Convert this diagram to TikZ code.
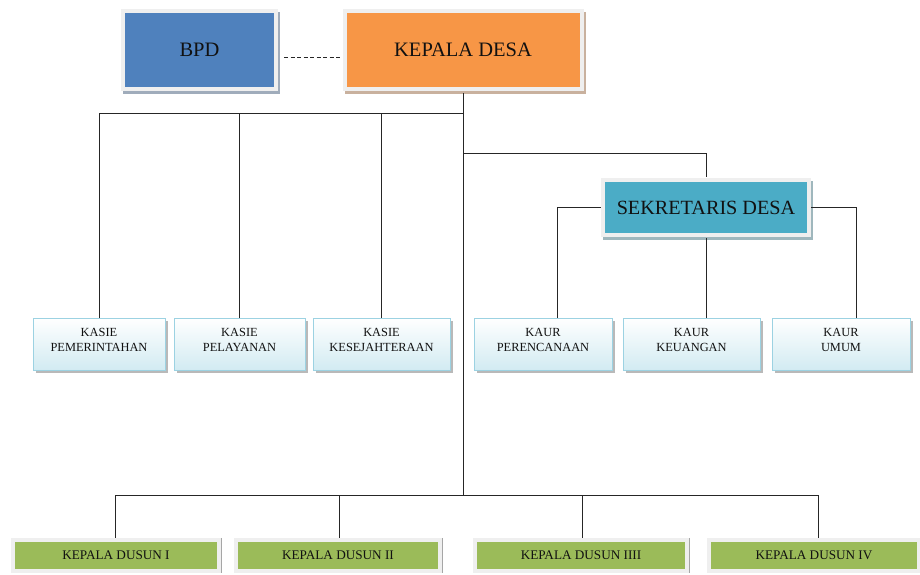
\documentclass[tikz,border=0pt]{standalone}
\usepackage{fontspec}
\setmainfont{Liberation Serif}
\usetikzlibrary{calc}
\definecolor{bpdblue}{HTML}{4F81BD}
\definecolor{kdorange}{HTML}{F79646}
\definecolor{sekteal}{HTML}{4BACC6}
\definecolor{dgreen}{HTML}{9BBB59}
\definecolor{framegray}{HTML}{EFEFEF}
\definecolor{lineblk}{HTML}{262626}
\definecolor{kborder}{HTML}{9CD2E2}
\definecolor{kbottom}{HTML}{D2EBF2}
\definecolor{txt}{HTML}{111111}
\newcommand{\twoline}[2]{\raisebox{3pt}[\height][\depth]{\begin{tabular}{@{}c@{}}#1\\#2\end{tabular}}}
\begin{document}
\begin{tikzpicture}[x=1pt,y=-1pt,
  topbox/.style={fill=#1, text=txt, inner sep=0pt, font=\fontsize{20.5}{24}\selectfont,
    preaction={draw=#1!55!black!45, line width=8pt, transform canvas={shift={(2pt,-2.5pt)}}},
    preaction={draw=framegray, line width=8pt}},
  kbox/.style={draw=kborder, line width=0.8pt, top color=white, bottom color=kbottom,
    text=txt, inner sep=0pt, font=\fontsize{12.4}{14.5}\selectfont,
    preaction={fill=gray!55, transform canvas={shift={(2.5pt,-2.5pt)}}}},
  dbox/.style={fill=dgreen, text=txt, inner sep=0pt, font=\fontsize{13.2}{15}\selectfont,
    preaction={draw=framegray, line width=8pt}},
  conn/.style={draw=lineblk, line width=0.8pt},
  dconn/.style={draw=lineblk, line width=0.8pt, dash pattern=on 4pt off 2.5pt},
  edgeline/.style={draw=gray!70, line width=1pt}
]
\useasboundingbox (0,0) rectangle (920,574);

% top row
\node[topbox=bpdblue, minimum width=149pt, minimum height=74pt] (bpd) at (199.5,50) {BPD};
\node[topbox=kdorange, minimum width=233pt, minimum height=74pt] (kd) at (463,50) {KEPALA DESA};
\node[topbox=sekteal, minimum width=202pt, minimum height=51pt, font=\fontsize{20.2}{24}\selectfont] (sek) at (706,207.5) {SEKRETARIS DESA};

% kasie
\node[kbox, minimum width=132pt, minimum height=52pt] (k1) at (99,344) {\twoline{KASIE}{PEMERINTAHAN}};
\node[kbox, minimum width=131pt, minimum height=52pt] (k2) at (239.5,344) {\twoline{KASIE}{PELAYANAN}};
\node[kbox, minimum width=137pt, minimum height=52pt] (k3) at (381.5,344) {\twoline{KASIE}{KESEJAHTERAAN}};

% kaur
\node[kbox, minimum width=138pt, minimum height=52pt] (u1) at (543,344) {\twoline{KAUR}{PERENCANAAN}};
\node[kbox, minimum width=137pt, minimum height=52pt] (u2) at (691.5,344) {\twoline{KAUR}{KEUANGAN}};
\node[kbox, minimum width=138pt, minimum height=52pt] (u3) at (841,344) {\twoline{KAUR}{UMUM}};

% dusun
\node[dbox, minimum width=202pt, minimum height=27pt] (d1) at (116,555.5) {KEPALA DUSUN I};
\node[dbox, minimum width=200pt, minimum height=27pt] (d2) at (338,555.5) {KEPALA DUSUN II};
\node[dbox, minimum width=208pt, minimum height=27pt] (d3) at (581,555.5) {KEPALA DUSUN IIII};
\node[dbox, minimum width=206pt, minimum height=27pt] (d4) at (814,555.5) {KEPALA DUSUN IV};
\foreach \n in {d1,d2,d3,d4}{
  \draw[edgeline] ($(\n.north east)+(4,-4)$) -- ($(\n.south east)+(4,4)$);
}

% connectors
\coordinate (hA) at (463,113);
\coordinate (hS) at (463,153);
\coordinate (hD) at (463,495);
\draw[dconn] ($(bpd.east)+(10,7)$) -- ($(kd.west)+(-4,7)$);
\draw[conn] ($(kd.south)+(0,6)$) -- (hD);
\draw[conn] (k1.north) |- (hA);
\draw[conn] (k2.north) |- (hA);
\draw[conn] (k3.north) |- (hA);
\draw[conn] (hS) -| ($(sek.north)+(0,-5)$);
\draw[conn] ($(sek.west)+(-4,0)$) -| ($(u1.north)+(14,0)$);
\draw[conn] ($(sek.south)+(0,5)$) -- (sek.south |- u2.north);
\draw[conn] ($(sek.east)+(4,0)$) -| ($(u3.north)+(15,0)$);
\draw[conn] ($(d1.north)+(-1,-4)$) |- (hD);
\draw[conn] ($(d2.north)+(1,-4)$) |- (hD);
\draw[conn] ($(d3.north)+(1,-4)$) |- (hD);
\draw[conn] ($(d4.north)+(4,-4)$) |- (hD);
\end{tikzpicture}
\end{document}
